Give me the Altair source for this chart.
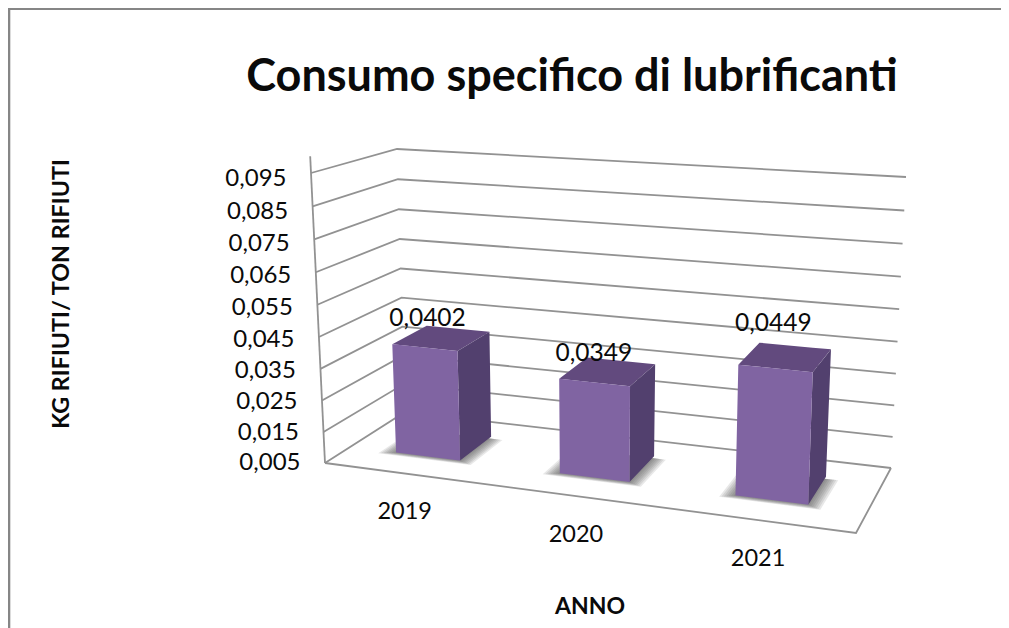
import altair as alt
import pandas as pd

# ---------- data ----------
years = ["2019", "2020", "2021"]
values = [0.0402, 0.0349, 0.0449]
value_labels = ["0,0402", "0,0349", "0,0449"]
tick_values = [0.005, 0.015, 0.025, 0.035, 0.045, 0.055, 0.065, 0.075, 0.085, 0.095]
tick_labels = ["0,005", "0,015", "0,025", "0,035", "0,045", "0,055", "0,065", "0,075", "0,085", "0,095"]
title_text = "Consumo specifico di lubrificanti"
y_title = "KG RIFIUTI/ TON RIFIUTI"
x_title = "ANNO"

# ---------- layout: corners of the perspective box (image pixels) ----------
W, H, M = 1001, 628, 8
A0, B0, C0, D0 = (325, 463), (856, 533), (891, 468), (405, 412)  # floor
A1, B1, C1, D1 = (311, 173), (868, 216), (906, 177), (397, 149)  # level 0.095
VMIN, VMAX = 0.005, 0.095
bar_u = [(0.088, 0.212), (0.405, 0.54), (0.745, 0.886)]
bar_d = (0.32, 0.76)
label_off = [(-14, -19.5), (-14, -18), (-12, -33)]


def lerp(p, q, t):
    return (p[0] + (q[0] - p[0]) * t, p[1] + (q[1] - p[1]) * t)


def project(u, d, v):
    """box coordinates (across, depth, value) to picture coordinates"""
    t = (v - VMIN) / (VMAX - VMIN)
    t = t * (1 - 0.04 * (1 - t))
    low = lerp(lerp(A0, B0, u), lerp(D0, C0, u), d)
    high = lerp(lerp(A1, B1, u), lerp(D1, C1, u), d)
    return lerp(low, high, t)


def polygon_rows(name, pts):
    """slice a convex polygon into x columns for an area mark"""
    xs = sorted({round(p[0], 3) for p in pts})
    rows = []
    n = len(pts)
    for x in xs:
        ys = []
        for i in range(n):
            p, q = pts[i], pts[(i + 1) % n]
            lo, hi = min(p[0], q[0]), max(p[0], q[0])
            if lo - 0.002 <= x <= hi + 0.002:
                if abs(q[0] - p[0]) < 1e-6:
                    ys += [p[1], q[1]]
                else:
                    ys.append(p[1] + (q[1] - p[1]) * (x - p[0]) / (q[0] - p[0]))
        rows.append({"poly": name, "x": x, "y": min(ys), "y2": max(ys)})
    return rows


front, top, side, shadow = [], [], [], []
spread = [(0.027, 0.05), (0.023, 0.042), (0.019, 0.034), (0.015, 0.027), (0.011, 0.02), (0.007, 0.013), (0.003, 0.007)]
for i, v in enumerate(values):
    u1, u2 = bar_u[i]
    d1, d2 = bar_d
    front += polygon_rows(f"f{i}", [project(u1, d1, v), project(u2, d1, v), project(u2, d1, VMIN), project(u1, d1, VMIN)])
    top += polygon_rows(f"t{i}", [project(u1, d1, v), project(u2, d1, v), project(u2, d2, v), project(u1, d2, v)])
    side += polygon_rows(f"s{i}", [project(u2, d1, v), project(u2, d2, v), project(u2, d2, VMIN), project(u2, d1, VMIN)])
    for k, (eu, ed) in enumerate(spread):
        shadow += polygon_rows(f"h{i}{k}", [
            project(u1 - eu, d1 - ed, VMIN), project(u2 + eu, d1 - ed, VMIN),
            project(u2 + eu, d2 - 0.03, VMIN), project(u1 - eu, d2 - 0.03, VMIN)])

grid = []
for j, v in enumerate(tick_values):
    for o, (u, d) in enumerate([(0, 0), (0, 1), (1, 1)]):
        x, y = project(u, d, v)
        grid.append({"line": f"g{j}", "o": o, "x": x, "y": y})
floor_paths = [[(0, 0), (1, 0), (1, 1)]]
for j, path in enumerate(floor_paths):
    for o, (u, d) in enumerate(path):
        x, y = project(u, d, VMIN)
        grid.append({"line": f"f{j}", "o": o, "x": x, "y": y})
for o, v in enumerate([0.1, VMIN]):
    x, y = project(0, 0, v)
    grid.append({"line": "axis", "o": o, "x": x, "y": y})

frame = [
    {"line": "top", "o": 0, "x": 9, "y": 8.8}, {"line": "top", "o": 1, "x": W, "y": 8.8},
    {"line": "left", "o": 0, "x": 9, "y": 8}, {"line": "left", "o": 1, "x": 9, "y": H},
]

tick_rows = []
for v, s in zip(tick_values, tick_labels):
    x, y = project(0, 0, v)
    tick_rows.append({"x": x - 24.5, "y": y + 6 * (v - VMIN) / (VMAX - VMIN), "t": s})

year_rows, val_rows = [], []
for i, (yr, s) in enumerate(zip(years, value_labels)):
    uc = sum(bar_u[i]) / 2
    x, y = project(uc, 0, VMIN)
    year_rows.append({"x": x, "y": y + 38.5, "t": yr})
    a, b = project(uc, bar_d[0], values[i]), project(uc, bar_d[1], values[i])
    val_rows.append({"x": (a[0] + b[0]) / 2 + label_off[i][0], "y": (a[1] + b[1]) / 2 + label_off[i][1], "t": s})

X = alt.X("x:Q", scale=alt.Scale(domain=[M, W], nice=False, zero=False), axis=None)
Y = alt.Y("y:Q", scale=alt.Scale(domain=[H, M], nice=False, zero=False), axis=None)
FONT = "Lato"


def faces(rows, color, opacity=1.0):
    return alt.Chart(pd.DataFrame(rows)).mark_area(orient="vertical", color=color, opacity=opacity, line=False).encode(
        x=X, y=Y, y2=alt.Y2("y2:Q"), detail="poly:N")


def lines(rows, color, width):
    return alt.Chart(pd.DataFrame(rows)).mark_line(color=color, strokeWidth=width).encode(
        x=X, y=Y, detail="line:N", order="o:Q")


def texts(rows, size, weight="normal", align="center", angle=0):
    return alt.Chart(pd.DataFrame(rows)).mark_text(
        font=FONT, fontSize=size, fontWeight=weight, align=align, baseline="middle", angle=angle, color="#0a0a0a"
    ).encode(x=X, y=Y, text="t:N")


chart = alt.layer(
    lines(frame, "#868686", 2.6),
    lines(grid, "#929292", 1.8),
    faces(shadow, "#4a4a4a", 0.13),
    faces(top, "#624A7E"),
    faces(side, "#52406E"),
    faces(front, "#8064A2"),
    texts(tick_rows, 24, align="right"),
    texts(year_rows, 23.5),
    texts(val_rows, 24.5),
    texts([{"x": 572, "y": 77, "t": title_text}], 45, weight="bold"),
    texts([{"x": 62, "y": 294, "t": y_title}], 23.3, weight="bold", angle=270),
    texts([{"x": 590, "y": 607, "t": x_title}], 23, weight="bold"),
).properties(
    width=W - M, height=H - M, padding=0, autosize=alt.AutoSizeParams(type="none"), background="white"
).configure_view(stroke=None)

chart.save("out.html", embed_options={"renderer": "svg", "actions": False})
